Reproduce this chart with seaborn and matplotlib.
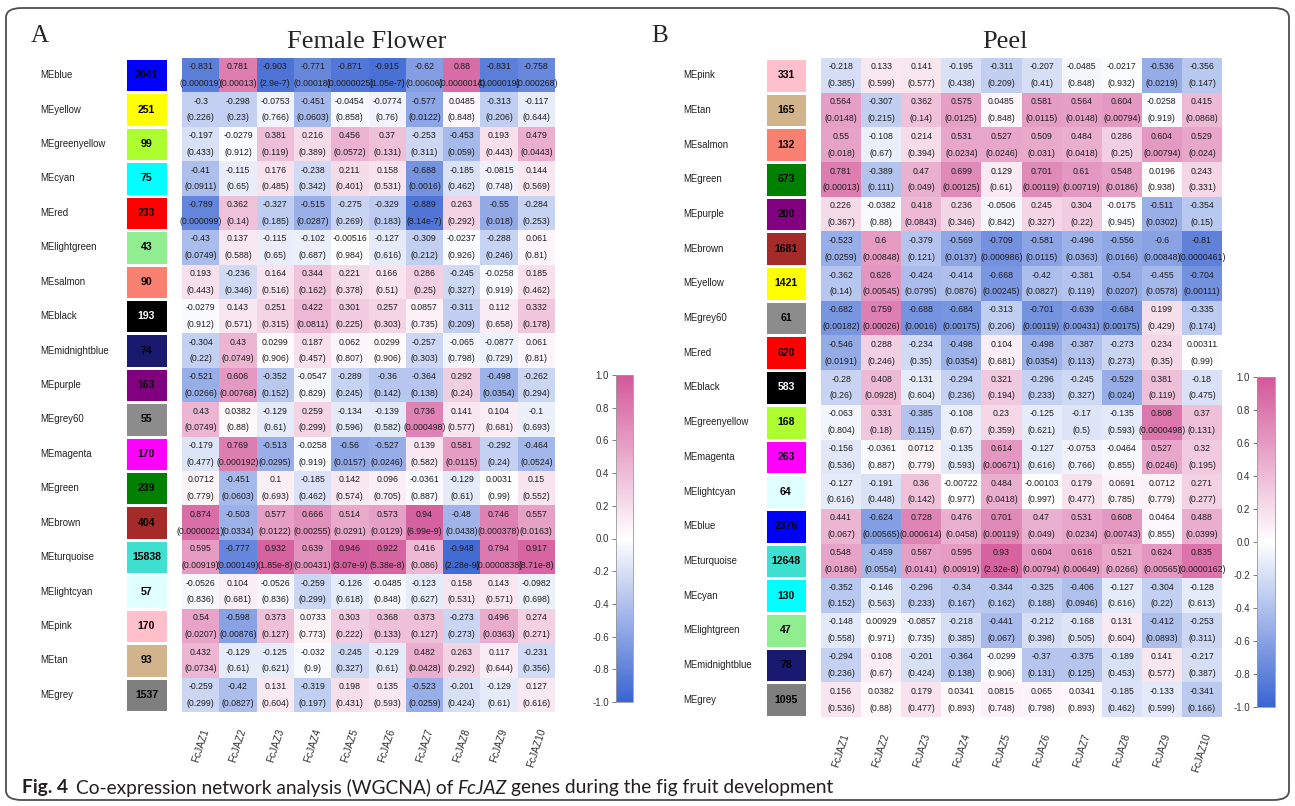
import numpy as np
import pandas as pd
import matplotlib
matplotlib.use("Agg")
import matplotlib.pyplot as plt
import seaborn as sns
from matplotlib.colors import LinearSegmentedColormap, ListedColormap
from matplotlib.patches import FancyBboxPatch
from matplotlib.ticker import FormatStrFormatter

sns.set_style("white")
plt.rcParams["font.family"] = ["Liberation Sans", "DejaVu Sans"]
plt.rcParams["axes.unicode_minus"] = False

genes = ["FcJAZ1", "FcJAZ2", "FcJAZ3", "FcJAZ4", "FcJAZ5",
         "FcJAZ6", "FcJAZ7", "FcJAZ8", "FcJAZ9", "FcJAZ10"]

# ---------------- Panel A : Female Flower ----------------
a_modules = ["MEblue", "MEyellow", "MEgreenyellow", "MEcyan", "MEred", "MElightgreen",
             "MEsalmon", "MEblack", "MEmidnightblue", "MEpurple", "MEgrey60", "MEmagenta",
             "MEgreen", "MEbrown", "MEturquoise", "MElightcyan", "MEpink", "MEtan", "MEgrey"]
a_sizes = [2041, 251, 99, 75, 233, 43, 90, 193, 74, 163, 55, 170, 239, 404, 15838, 57, 170, 93, 1537]
a_r = [
    [-0.831, 0.781, -0.903, -0.771, -0.871, -0.915, -0.62, 0.88, -0.831, -0.758],
    [-0.3, -0.298, -0.0753, -0.451, -0.0454, -0.0774, -0.577, 0.0485, -0.313, -0.117],
    [-0.197, -0.0279, 0.381, 0.216, 0.456, 0.37, -0.253, -0.453, 0.193, 0.479],
    [-0.41, -0.115, 0.176, -0.238, 0.211, 0.158, -0.688, -0.185, -0.0815, 0.144],
    [-0.789, 0.362, -0.327, -0.515, -0.275, -0.329, -0.889, 0.263, -0.55, -0.284],
    [-0.43, 0.137, -0.115, -0.102, -0.00516, -0.127, -0.309, -0.0237, -0.288, 0.061],
    [0.193, -0.236, 0.164, 0.344, 0.221, 0.166, 0.286, -0.245, -0.0258, 0.185],
    [-0.0279, 0.143, 0.251, 0.422, 0.301, 0.257, 0.0857, -0.311, 0.112, 0.332],
    [-0.304, 0.43, 0.0299, 0.187, 0.062, 0.0299, -0.257, -0.065, -0.0877, 0.061],
    [-0.521, 0.606, -0.352, -0.0547, -0.289, -0.36, -0.364, 0.292, -0.498, -0.262],
    [0.43, 0.0382, -0.129, 0.259, -0.134, -0.139, 0.736, 0.141, 0.104, -0.1],
    [-0.179, 0.769, -0.513, -0.0258, -0.56, -0.527, 0.139, 0.581, -0.292, -0.464],
    [0.0712, -0.451, 0.1, -0.185, 0.142, 0.096, -0.0361, -0.129, 0.0031, 0.15],
    [0.874, -0.503, 0.577, 0.666, 0.514, 0.573, 0.94, -0.48, 0.746, 0.557],
    [0.595, -0.777, 0.932, 0.639, 0.946, 0.922, 0.416, -0.948, 0.794, 0.917],
    [-0.0526, 0.104, -0.0526, -0.259, -0.126, -0.0485, -0.123, 0.158, 0.143, -0.0982],
    [0.54, -0.598, 0.373, 0.0733, 0.303, 0.368, 0.373, -0.273, 0.496, 0.274],
    [0.432, -0.129, -0.125, -0.032, -0.245, -0.129, 0.482, 0.263, 0.117, -0.231],
    [-0.259, -0.42, 0.131, -0.319, 0.198, 0.135, -0.523, -0.201, -0.129, 0.127],
]
a_p = [
    ["0.000019", "0.00013", "2.9e-7", "0.00018", "0.0000025", "1.05e-7", "0.00606", "0.0000014", "0.000019", "0.000268"],
    ["0.226", "0.23", "0.766", "0.0603", "0.858", "0.76", "0.0122", "0.848", "0.206", "0.644"],
    ["0.433", "0.912", "0.119", "0.389", "0.0572", "0.131", "0.311", "0.059", "0.443", "0.0443"],
    ["0.0911", "0.65", "0.485", "0.342", "0.401", "0.531", "0.0016", "0.462", "0.748", "0.569"],
    ["0.000099", "0.14", "0.185", "0.0287", "0.269", "0.183", "8.14e-7", "0.292", "0.018", "0.253"],
    ["0.0749", "0.588", "0.65", "0.687", "0.984", "0.616", "0.212", "0.926", "0.246", "0.81"],
    ["0.443", "0.346", "0.516", "0.162", "0.378", "0.51", "0.25", "0.327", "0.919", "0.462"],
    ["0.912", "0.571", "0.315", "0.0811", "0.225", "0.303", "0.735", "0.209", "0.658", "0.178"],
    ["0.22", "0.0749", "0.906", "0.457", "0.807", "0.906", "0.303", "0.798", "0.729", "0.81"],
    ["0.0266", "0.00768", "0.152", "0.829", "0.245", "0.142", "0.138", "0.24", "0.0354", "0.294"],
    ["0.0749", "0.88", "0.61", "0.299", "0.596", "0.582", "0.000498", "0.577", "0.681", "0.693"],
    ["0.477", "0.000192", "0.0295", "0.919", "0.0157", "0.0246", "0.582", "0.0115", "0.24", "0.0524"],
    ["0.779", "0.0603", "0.693", "0.462", "0.574", "0.705", "0.887", "0.61", "0.99", "0.552"],
    ["0.0000021", "0.0334", "0.0122", "0.00255", "0.0291", "0.0129", "6.99e-9", "0.0438", "0.000378", "0.0163"],
    ["0.00919", "0.000149", "1.85e-8", "0.00431", "3.07e-9", "5.38e-8", "0.086", "2.28e-9", "0.0000838", "8.71e-8"],
    ["0.836", "0.681", "0.836", "0.299", "0.618", "0.848", "0.627", "0.531", "0.571", "0.698"],
    ["0.0207", "0.00876", "0.127", "0.773", "0.222", "0.133", "0.127", "0.273", "0.0363", "0.271"],
    ["0.0734", "0.61", "0.621", "0.9", "0.327", "0.61", "0.0428", "0.292", "0.644", "0.356"],
    ["0.299", "0.0827", "0.604", "0.197", "0.431", "0.593", "0.0259", "0.424", "0.61", "0.616"],
]

# ---------------- Panel B : Peel ----------------
b_modules = ["MEpink", "MEtan", "MEsalmon", "MEgreen", "MEpurple", "MEbrown", "MEyellow",
             "MEgrey60", "MEred", "MEblack", "MEgreenyellow", "MEmagenta", "MElightcyan",
             "MEblue", "MEturquoise", "MEcyan", "MElightgreen", "MEmidnightblue", "MEgrey"]
b_sizes = [331, 165, 132, 673, 200, 1681, 1421, 61, 620, 583, 168, 263, 64, 2376, 12648, 130, 47, 78, 1095]
b_r = [
    [-0.218, 0.133, 0.141, -0.195, -0.311, -0.207, -0.0485, -0.0217, -0.536, -0.356],
    [0.564, -0.307, 0.362, 0.575, 0.0485, 0.581, 0.564, 0.604, -0.0258, 0.415],
    [0.55, -0.108, 0.214, 0.531, 0.527, 0.509, 0.484, 0.286, 0.604, 0.529],
    [0.781, -0.389, 0.47, 0.699, 0.129, 0.701, 0.61, 0.548, 0.0196, 0.243],
    [0.226, -0.0382, 0.418, 0.236, -0.0506, 0.245, 0.304, -0.0175, -0.511, -0.354],
    [-0.523, 0.6, -0.379, -0.569, -0.709, -0.581, -0.496, -0.556, -0.6, -0.81],
    [-0.362, 0.626, -0.424, -0.414, -0.668, -0.42, -0.381, -0.54, -0.455, -0.704],
    [-0.682, 0.759, -0.688, -0.684, -0.313, -0.701, -0.639, -0.684, 0.199, -0.335],
    [-0.546, 0.288, -0.234, -0.498, 0.104, -0.498, -0.387, -0.273, 0.234, 0.00311],
    [-0.28, 0.408, -0.131, -0.294, 0.321, -0.296, -0.245, -0.529, 0.381, -0.18],
    [-0.063, 0.331, -0.385, -0.108, 0.23, -0.125, -0.17, -0.135, 0.808, 0.37],
    [-0.156, -0.0361, 0.0712, -0.135, 0.614, -0.127, -0.0753, -0.0464, 0.527, 0.32],
    [-0.127, -0.191, 0.36, -0.00722, 0.484, -0.00103, 0.179, 0.0691, 0.0712, 0.271],
    [0.441, -0.624, 0.728, 0.476, 0.701, 0.47, 0.531, 0.608, 0.0464, 0.488],
    [0.548, -0.459, 0.567, 0.595, 0.93, 0.604, 0.616, 0.521, 0.624, 0.835],
    [-0.352, -0.146, -0.296, -0.34, -0.344, -0.325, -0.406, -0.127, -0.304, -0.128],
    [-0.148, 0.00929, -0.0857, -0.218, -0.441, -0.212, -0.168, 0.131, -0.412, -0.253],
    [-0.294, 0.108, -0.201, -0.364, -0.0299, -0.37, -0.375, -0.189, 0.141, -0.217],
    [0.156, 0.0382, 0.179, 0.0341, 0.0815, 0.065, 0.0341, -0.185, -0.133, -0.341],
]
b_p = [
    ["0.385", "0.599", "0.577", "0.438", "0.209", "0.41", "0.848", "0.932", "0.0219", "0.147"],
    ["0.0148", "0.215", "0.14", "0.0125", "0.848", "0.0115", "0.0148", "0.00794", "0.919", "0.0868"],
    ["0.018", "0.67", "0.394", "0.0234", "0.0246", "0.031", "0.0418", "0.25", "0.00794", "0.024"],
    ["0.00013", "0.111", "0.049", "0.00125", "0.61", "0.00119", "0.00719", "0.0186", "0.938", "0.331"],
    ["0.367", "0.88", "0.0843", "0.346", "0.842", "0.327", "0.22", "0.945", "0.0302", "0.15"],
    ["0.0259", "0.00848", "0.121", "0.0137", "0.000986", "0.0115", "0.0363", "0.0166", "0.00848", "0.0000461"],
    ["0.14", "0.00545", "0.0795", "0.0876", "0.00245", "0.0827", "0.119", "0.0207", "0.0578", "0.00111"],
    ["0.00182", "0.00026", "0.0016", "0.00175", "0.206", "0.00119", "0.00431", "0.00175", "0.429", "0.174"],
    ["0.0191", "0.246", "0.35", "0.0354", "0.681", "0.0354", "0.113", "0.273", "0.35", "0.99"],
    ["0.26", "0.0928", "0.604", "0.236", "0.194", "0.233", "0.327", "0.024", "0.119", "0.475"],
    ["0.804", "0.18", "0.115", "0.67", "0.359", "0.621", "0.5", "0.593", "0.0000498", "0.131"],
    ["0.536", "0.887", "0.779", "0.593", "0.00671", "0.616", "0.766", "0.855", "0.0246", "0.195"],
    ["0.616", "0.448", "0.142", "0.977", "0.0418", "0.997", "0.477", "0.785", "0.779", "0.277"],
    ["0.067", "0.00565", "0.000614", "0.0458", "0.00119", "0.049", "0.0234", "0.00743", "0.855", "0.0399"],
    ["0.0186", "0.0554", "0.0141", "0.00919", "2.32e-8", "0.00794", "0.00649", "0.0266", "0.00565", "0.0000162"],
    ["0.152", "0.563", "0.233", "0.167", "0.162", "0.188", "0.0946", "0.616", "0.22", "0.613"],
    ["0.558", "0.971", "0.735", "0.385", "0.067", "0.398", "0.505", "0.604", "0.0893", "0.311"],
    ["0.236", "0.67", "0.424", "0.138", "0.906", "0.131", "0.125", "0.453", "0.577", "0.387"],
    ["0.536", "0.88", "0.477", "0.893", "0.748", "0.798", "0.893", "0.462", "0.599", "0.166"],
]

module_colors = {
    "blue": "#0000FF", "yellow": "#FFFF00", "greenyellow": "#ADFF2F", "cyan": "#00FFFF",
    "red": "#FF0000", "lightgreen": "#90EE90", "salmon": "#FA8072", "black": "#000000",
    "midnightblue": "#191970", "purple": "#800080", "grey60": "#8C8C8C", "magenta": "#FF00FF",
    "green": "#008000", "brown": "#A52A2A", "turquoise": "#40E0D0", "lightcyan": "#E0FFFF",
    "pink": "#FFC0CB", "tan": "#D2B48C", "grey": "#7F7F7F",
}

cmap = LinearSegmentedColormap.from_list("bwp", ["#3A64D2", "#FFFFFF", "#D3589A"])

W, H = 1295, 806
fig = plt.figure(figsize=(W / 100, H / 100), dpi=100)
fig.patch.set_facecolor("white")


def rect(x0, y0, x1, y1):
    return [x0 / W, 1 - y1 / H, (x1 - x0) / W, (y1 - y0) / H]


def draw_panel(modules, sizes, r, p, hm_box, blk_box, cb_box, label_x):
    ax = fig.add_axes(rect(*hm_box))
    cax = fig.add_axes(rect(*cb_box))
    bx = fig.add_axes(rect(*blk_box))

    annot = np.array([[f"{v:.3g}\n({pv})" for v, pv in zip(rr, pp)] for rr, pp in zip(r, p)])
    df = pd.DataFrame(np.array(r), index=modules, columns=genes)
    sns.heatmap(df, ax=ax, cmap=cmap, vmin=-1, vmax=1, annot=annot, fmt="",
                annot_kws=dict(fontsize=6.3, linespacing=2.1),
                cbar_ax=cax, yticklabels=False, xticklabels=genes)
    for t in ax.texts:
        t.set_color("#1e1e1e")
    ax.tick_params(axis="x", length=0, pad=11, labelsize=7.3, labelcolor="#333333")
    for lbl in ax.get_xticklabels():
        lbl.set_rotation(72)
        lbl.set_ha("center")
        lbl.set_va("top")

    cb = ax.collections[0].colorbar
    ticks = np.round(np.linspace(-1, 1, 11), 1) + 0.0
    cb.set_ticks(ticks)
    cax.yaxis.set_major_formatter(FormatStrFormatter("%.1f"))
    cax.yaxis.set_ticks_position("left")
    cax.tick_params(labelsize=7, length=3, width=0.6, color="#666666", labelcolor="#333333", pad=2)
    cb.outline.set_linewidth(0.6)
    cb.outline.set_edgecolor("#9a9a9a")

    n = len(modules)
    cols = [module_colors[m[2:]] for m in modules]
    idx = pd.DataFrame(np.arange(n).reshape(-1, 1), index=modules)
    sns.heatmap(idx, ax=bx, cmap=ListedColormap(cols), vmin=-0.5, vmax=n - 0.5,
                annot=np.array(sizes).reshape(-1, 1), fmt="d",
                annot_kws=dict(fontsize=7.6, fontweight="bold"),
                cbar=False, linewidths=1.0, linecolor="white",
                xticklabels=False, yticklabels=modules)
    for t, m in zip(bx.texts, modules):
        t.set_color("white" if m == "MEblack" else "black")
    pad_pts = (blk_box[0] - label_x) * 0.72
    bx.tick_params(axis="y", length=0, pad=pad_pts, labelsize=6.9, labelcolor="#222222")
    for lbl in bx.get_yticklabels():
        lbl.set_rotation(0)
        lbl.set_ha("left")
    return ax


draw_panel(a_modules, a_sizes, a_r, a_p, (182, 58, 555, 712), (125, 58, 168, 712),
           (616, 375, 633, 702), 40)
draw_panel(b_modules, b_sizes, b_r, b_p, (821, 58, 1222, 717), (765, 58, 807, 717),
           (1257, 377, 1275, 707), 683)

serif = ["Liberation Serif", "DejaVu Serif"]
fig.text(367 / W, 1 - 42 / H, "Female Flower", ha="center", va="center", fontsize=19, family=serif)
fig.text(1005 / W, 1 - 42 / H, "Peel", ha="center", va="center", fontsize=19, family=serif)
fig.text(40 / W, 1 - 36 / H, "A", ha="center", va="center", fontsize=18, family=serif)
fig.text(660 / W, 1 - 36 / H, "B", ha="center", va="center", fontsize=18, family=serif)

# outer rounded frame
frame = FancyBboxPatch((6 / W, 1 - 800 / H), (1289 - 6) / W, (800 - 8) / H,
                       boxstyle="round,pad=0,rounding_size=0.012", transform=fig.transFigure,
                       fill=False, ec="#4d4d4d", lw=1.3)
fig.patches.append(frame)

# caption
renderer = fig.canvas.get_renderer()
cap_y = 1 - 788 / H
x = 22 / W
pieces = [("Fig. 4", dict(fontweight="bold"), 8),
          ("Co-expression network analysis (WGCNA) of", dict(), 4),
          ("FcJAZ", dict(style="italic"), 4),
          ("genes during the fig fruit development", dict(), 0)]
for txt, kw, gap in pieces:
    t = fig.text(x, cap_y, txt, ha="left", va="center", fontsize=13.8,
                 family=["Lato", "DejaVu Sans"], color="#231f20", **kw)
    bb = t.get_window_extent(renderer=renderer)
    x += (bb.width + gap) / W

fig.savefig("out.png", dpi=100, facecolor="white")
